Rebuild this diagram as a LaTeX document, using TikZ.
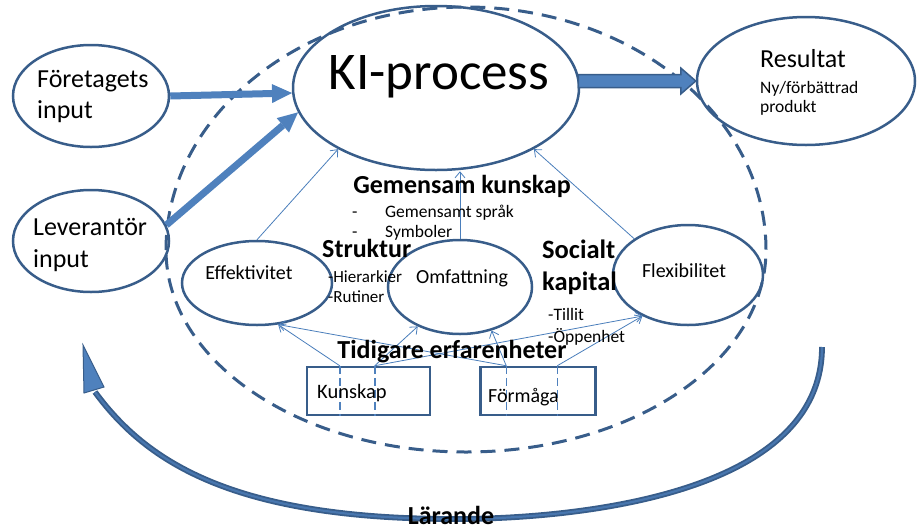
\documentclass[tikz,border=0pt]{standalone}
\usepackage{fontspec}
\setmainfont{Carlito}
\usetikzlibrary{arrows.meta,calc,shapes.geometric}
\definecolor{edge}{HTML}{385D8A}
\definecolor{accent}{HTML}{4F81BD}
\definecolor{thinblue}{HTML}{4A7EBB}
\newcommand{\fsz}[1]{\fontsize{#1}{#1}\selectfont}

\begin{document}
\begin{tikzpicture}[x=1pt,y=-1pt,
  oval/.style={ellipse, draw=edge, line width=2.5pt, inner sep=0pt},
  box/.style={rectangle, draw=edge, line width=2.5pt, inner sep=0pt},
  txt/.style={inner sep=0pt, text=black},
  feed/.style={draw=thinblue, line width=0.8pt, -{Straight Barb[length=6pt,width=10pt]}},
  heavy/.style={draw=accent, line width=7pt, -{Triangle[length=20pt,width=19pt,line width=0pt]}},
  hollow/.style={draw=edge, fill=accent, line width=1.5pt, line join=miter},
  boundary/.style={draw=edge, line width=3pt, dash pattern=on 15pt off 9pt},
  splitline/.style={draw=accent, line width=1.5pt, dash pattern=on 8pt off 4pt},
  cycleband/.style={draw=edge, line width=1.8pt, double=accent!70!edge, double distance=2.2pt}
]
\useasboundingbox (0,0) rectangle (922,531);

% shared knowledge boundary (egg-shaped dashed outline)
\draw[boundary] (166,250) arc[start angle=180, end angle=360, x radius=300, y radius=243]
                arc[start angle=0, end angle=180, x radius=300, y radius=202];

% learning loop along the bottom
\draw[cycleband] (822,347) .. controls (822,500) and (560,519) .. (455,519)
                 .. controls (235,519) and (147,463) .. (95,392) coordinate (lend);
\filldraw[fill=accent, draw=edge, line width=1pt] (83,345) -- (104,387) -- (84,393) -- cycle;

% main ellipses
\node[oval, minimum width=286pt, minimum height=164pt] (ki) at (436,88) {};
\node[oval, minimum width=218pt, minimum height=128pt] (res) at (806,81) {};
\node[oval, minimum width=156pt, minimum height=102pt] (fi) at (91,96) {};
\node[oval, minimum width=156pt, minimum height=102pt] (lev) at (91,241) {};
\node[oval, minimum width=150pt, minimum height=84pt] (eff) at (257,283) {};
\node[oval, minimum width=144pt, minimum height=94pt] (omf) at (460,287) {};
\node[oval, minimum width=150pt, minimum height=100pt] (flex) at (688,275) {};

% experience boxes
\node[box, minimum width=123pt, minimum height=48pt] (kbox) at (368.5,391) {};
\node[box, minimum width=115pt, minimum height=48pt] (fbox) at (538,391) {};
\coordinate (k1) at ($(kbox.north west)+(34,0)$);
\coordinate (k2) at ($(kbox.north west)+(69,0)$);
\coordinate (f1) at ($(fbox.north west)+(27,0)$);
\coordinate (f2) at ($(fbox.north west)+(78,0)$);
\draw[splitline] (k1) -- (k1 |- kbox.south);
\draw[splitline] (k2) -- (k2 |- kbox.south);
\draw[splitline] (f1) -- (f1 |- fbox.south);
\draw[splitline] (f2) -- (f2 |- fbox.south);

% inputs into the process
\draw[heavy] (fi.east) -- (ki.182);
\draw[heavy] (lev.12) -- (ki.190);

% process output
\draw[hollow] ($(ki.east |- res.west)+(-2,-6.5)$) -- ($(res.west)+(-15,-6.5)$)
  -- ($(res.west)+(-15,-13)$) -- (res.west) -- ($(res.west)+(-15,13)$)
  -- ($(res.west)+(-15,6.5)$) -- ($(ki.east |- res.west)+(-2,6.5)$) -- cycle;

% capabilities feeding the process
\draw[feed] (eff.north) -- (ki.212);
\draw[feed] (omf.north) -- (omf.north |- ki.south);
\draw[feed] (flex.146) -- (ki.328);

% prior experience feeding the capabilities
\draw[feed] (k1) -- (eff.297);
\draw[feed] (k2) -- (omf.223);
\draw[feed] (k2) -- (flex.222);
\draw[feed] (f1) -- (omf.306);
\draw[feed] (f1) -- (eff.297);
\draw[feed] (f2) -- (flex.222);

% labels
\node[txt, anchor=base] (kiT) at (439,89) {\fsz{53}KI-process};
\node[txt, anchor=base west] (resT) at (760,67) {\fsz{26}Resultat};
\node[txt, anchor=base west] (resA) at (760,93) {\fsz{17.5}Ny/förbättrad};
\node[txt, anchor=base west] (resB) at (760,112) {\fsz{17.5}produkt};
\node[txt, anchor=base west] (fiA) at (37,87) {\fsz{26}Företagets};
\node[txt, anchor=base west] (fiB) at (37,118) {\fsz{26}input};
\node[txt, anchor=base west] (levA) at (33,235) {\fsz{26}Leverantör};
\node[txt, anchor=base west] (levB) at (33,267) {\fsz{26}input};
\node[txt, anchor=base] (effT) at (249,279) {\fsz{20}Effektivitet};
\node[txt, anchor=base] (omfT) at (462,283) {\fsz{20}Omfattning};
\node[txt, anchor=base] (flexT) at (684,277) {\fsz{20}Flexibilitet};

\node[txt, anchor=base] (gem) at (462,193) {\fsz{26}\bfseries Gemensam kunskap};
\node[txt, anchor=base west] (gemD1) at (352,217) {\fsz{17.5}-};
\node[txt, anchor=base west] (gemA) at (385,217) {\fsz{17.5}Gemensamt språk};
\node[txt, anchor=base west] (gemD2) at (352,237) {\fsz{17.5}-};
\node[txt, anchor=base west] (gemB) at (385,237) {\fsz{17.5}Symboler};

\node[txt, anchor=base west] (str) at (322,257) {\fsz{26}\bfseries Struktur};
\node[txt, anchor=base west] (strA) at (328,282) {\fsz{17}-Hierarkier};
\node[txt, anchor=base west] (strB) at (328,302) {\fsz{17}-Rutiner};

\node[txt, anchor=base west] (socA) at (542,258) {\fsz{26.5}\bfseries Socialt};
\node[txt, anchor=base west] (socB) at (542,290) {\fsz{26.5}\bfseries kapital};
\node[txt, anchor=base west] (socC) at (548,320) {\fsz{17.5}-Tillit};
\node[txt, anchor=base west] (socD) at (548,342) {\fsz{17.5}-Öppenhet};

\node[txt, anchor=base] (tid) at (452,358) {\fsz{26}\bfseries Tidigare erfarenheter};
\node[txt, anchor=base west] (kT) at (317,398) {\fsz{20.5}Kunskap};
\node[txt, anchor=base west] (fT) at (488,402) {\fsz{20}Förmåga};

\node[txt, anchor=base] (lar) at (451,524) {\fsz{26}\bfseries Lärande};
\end{tikzpicture}
\end{document}
